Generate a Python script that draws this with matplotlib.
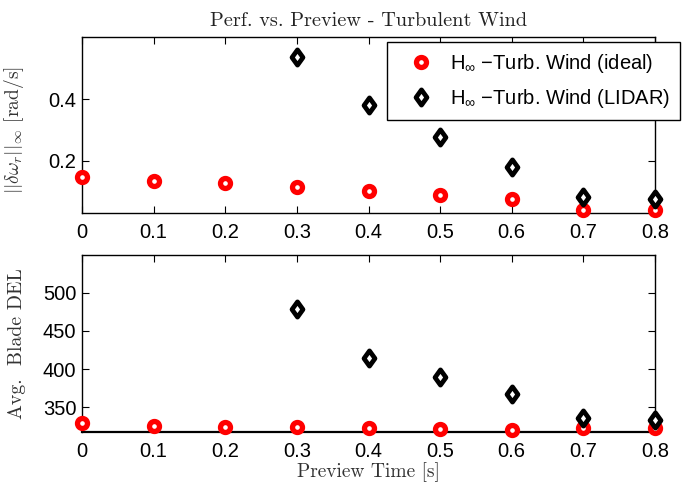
import matplotlib
matplotlib.use("Agg")
import matplotlib.pyplot as plt
from matplotlib.path import Path
import numpy as np

plt.rcParams['font.family'] = ['Liberation Sans', 'DejaVu Sans']
plt.rcParams['mathtext.fontset'] = 'custom'
plt.rcParams['mathtext.rm'] = 'Liberation Sans'
plt.rcParams['mathtext.it'] = 'Liberation Sans:italic'
plt.rcParams['axes.unicode_minus'] = False

preview = [0.0, 0.1, 0.2, 0.3, 0.4, 0.5, 0.6, 0.7, 0.8]
perf_ideal = [0.148, 0.135, 0.128, 0.115, 0.102, 0.087, 0.076, 0.039, 0.039]
lidar_preview = [0.3, 0.4, 0.5, 0.6, 0.7, 0.8]
perf_lidar = [0.540, 0.381, 0.276, 0.180, 0.082, 0.076]
del_ideal = [329.5, 326.0, 324.5, 324.0, 323.0, 322.0, 320.0, 323.0, 323.0]
del_lidar = [479.0, 415.0, 390.0, 368.0, 336.0, 334.0]

xticks = [0, 0.1, 0.2, 0.3, 0.4, 0.5, 0.6, 0.7, 0.8]
xticklabels = ['0', '0.1', '0.2', '0.3', '0.4', '0.5', '0.6', '0.7', '0.8']
yticks_top = [0.2, 0.4]
yticks_bot = [350, 400, 450, 500]

label_ideal = 'H$_{\\infty}$ \u2212Turb. Wind (ideal)'
label_lidar = 'H$_{\\infty}$ \u2212Turb. Wind (LIDAR)'

diamond = Path([(0, 1), (0.72, 0), (0, -1), (-0.72, 0), (0, 1)],
               [Path.MOVETO, Path.LINETO, Path.LINETO, Path.LINETO, Path.CLOSEPOLY])

W, H = 685, 483
fig = plt.figure(figsize=(W / 100, H / 100), dpi=100)
ax1 = fig.add_axes([82 / W, 1 - 213.3 / H, 573 / W, 176.6 / H])
ax2 = fig.add_axes([82 / W, 1 - 432 / H, 573 / W, 177 / H])

circ_kw = dict(marker='o', linestyle='none', markersize=7.2, markeredgewidth=3.8,
               markeredgecolor='red', markerfacecolor='white', clip_on=False, zorder=3)
dia_kw = dict(marker=diamond, linestyle='none', markersize=11, markeredgewidth=3.4,
              markeredgecolor='black', markerfacecolor='white', clip_on=False, zorder=4)

ax1.plot(preview, perf_ideal, label=label_ideal, **circ_kw)
ax1.plot(lidar_preview, perf_lidar, label=label_lidar, **dia_kw)
ax2.plot(preview, del_ideal, **circ_kw)
ax2.plot(lidar_preview, del_lidar, **dia_kw)

ax1.set_ylim(0.028, 0.605)
ax2.set_ylim(318, 549)
ax1.set_yticks(yticks_top)
ax1.set_yticklabels(['0.2', '0.4'])
ax2.set_yticks(yticks_bot)

for ax in (ax1, ax2):
    ax.set_xlim(0, 0.8)
    ax.set_xticks(xticks)
    ax.set_xticklabels(xticklabels)
    ax.tick_params(direction='in', length=5, width=0.8, top=True, right=True,
                   labelsize=14.5, colors='black')
    ax.tick_params(axis='x', pad=7)
    ax.tick_params(axis='y', pad=4)
    for s in ax.spines.values():
        s.set_linewidth(1.0)

ax2.spines['bottom'].set_linewidth(1.6)

ax1.set_title('Perf. vs. Preview - Turbulent Wind', fontfamily='cmr10', fontsize=14.6,
              pad=8, color='#222222')
ax1.set_ylabel('$||\\delta\\omega_r||_\\infty$ [rad/s]', fontsize=14, math_fontfamily='cm',
               fontfamily='cmr10', color='#333333')
ax1.yaxis.set_label_coords(-56 / 573, 0.47)
ax2.set_ylabel('Avg.  Blade DEL', fontfamily='cmr10', fontsize=14.3, color='#333333')
ax2.yaxis.set_label_coords(-56 / 573, 0.5)
ax2.set_xlabel('Preview Time [s]', fontfamily='cmr10', fontsize=14, color='#333333')
ax2.xaxis.set_label_coords(0.5, -30 / 177)

leg = ax1.legend(loc='upper right', bbox_to_anchor=(680 / W, 1 - 42 / H),
                 bbox_transform=fig.transFigure, borderaxespad=0, fontsize=14.5,
                 fancybox=False, framealpha=1, edgecolor='black', handletextpad=0.3,
                 borderpad=0.5, labelspacing=0.6, handlelength=2.3)
leg.get_frame().set_linewidth(1.0)
leg.set_zorder(10)

fig.savefig('out.png', dpi=100)
